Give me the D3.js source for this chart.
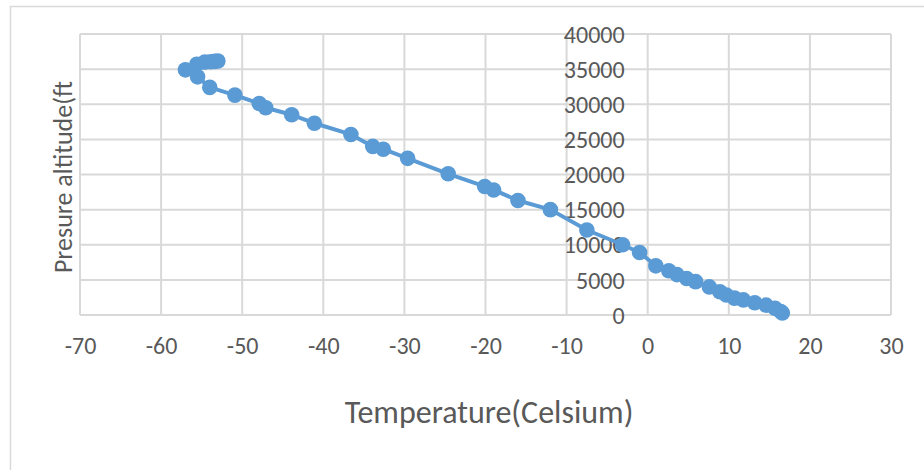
<!DOCTYPE html>
<html>
<head>
<meta charset="utf-8">
<script src="https://cdn.jsdelivr.net/npm/d3@7/dist/d3.min.js"></script>
<style>
  html, body { margin: 0; padding: 0; background: #ffffff; }
  svg { display: block; }
  text { font-family: "Carlito", "Open Sans", "Liberation Sans", sans-serif; fill: #595959; }
</style>
</head>
<body>
<svg id="chart" width="924" height="470"></svg>
<script>
// ---- data ----
const temperature = [-53.0, -53.4, -53.9, -54.6, -55.6, -57.0, -55.5, -54.0, -50.9, -47.9,
  -47.1, -43.9, -41.1, -36.6, -33.9, -32.6, -29.6, -24.6, -20.1, -19.0,
  -16.0, -12.0, -7.5, -3.1, -1.0, 1.0, 2.6, 3.6, 4.8, 5.9,
  7.6, 8.9, 9.7, 10.7, 11.8, 13.2, 14.6, 15.7, 16.4, 16.6];
const altitude = [36150, 36100, 36050, 36000, 35700, 34900, 33900, 32400, 31300, 30100,
  29500, 28500, 27300, 25700, 24000, 23600, 22300, 20100, 18300, 17800,
  16300, 15000, 12100, 10000, 8900, 7000, 6300, 5750, 5200, 4750,
  4000, 3300, 2850, 2400, 2150, 1750, 1400, 950, 500, 300];
const xTicks = [-70, -60, -50, -40, -30, -20, -10, 0, 10, 20, 30];
const yTicks = [0, 5000, 10000, 15000, 20000, 25000, 30000, 35000, 40000];
const xTitle = "Temperature(Celsium)";
const yTitle = "Presure altitude(ft";

const points = temperature.map((t, i) => ({ t, a: altitude[i] }));

const svg = d3.select("#chart");

// outer chart frame
svg.append("rect")
  .attr("x", 10.5).attr("y", 6.5)
  .attr("width", 960).attr("height", 520)
  .attr("fill", "#ffffff")
  .attr("stroke", "#d9d9d9").attr("stroke-width", 1.5);

const x = d3.scaleLinear().domain([-70, 30]).range([80, 891]);
const y = d3.scaleLinear().domain([0, 40000]).range([315, 34]);

// gridlines
const grid = svg.append("g");
grid.selectAll("line.v").data(xTicks).join("line")
  .attr("class", "v")
  .attr("x1", d => x(d)).attr("x2", d => x(d))
  .attr("y1", y(0)).attr("y2", y(40000))
  .attr("stroke", "#d9d9d9").attr("stroke-width", 2);
grid.selectAll("line.h").data(yTicks).join("line")
  .attr("class", "h")
  .attr("x1", x(-70)).attr("x2", x(30))
  .attr("y1", d => y(d)).attr("y2", d => y(d))
  .attr("stroke", "#d9d9d9").attr("stroke-width", 2);

// x axis labels (below plot)
const xAxis = d3.axisBottom(x).tickValues(xTicks).tickSize(0).tickPadding(0).tickFormat(d => String(d));
const gx = svg.append("g").attr("transform", `translate(0, ${y(0)})`).call(xAxis);
gx.select(".domain").remove();
gx.selectAll("text")
  .attr("y", 39).attr("dy", "0")
  .style("font-size", "24px").style("fill", "#595959")
  .style("font-family", "Carlito, 'Open Sans', sans-serif");

// y axis labels (at x = 0, to the left)
const yAxis = d3.axisLeft(y).tickValues(yTicks).tickSize(0).tickPadding(0).tickFormat(d => String(d));
const gy = svg.append("g").attr("transform", `translate(${x(0)}, 0)`).call(yAxis);
gy.select(".domain").remove();
gy.selectAll("text")
  .attr("x", -23).attr("dy", "0.34em")
  .style("font-size", "24px").style("fill", "#595959")
  .style("font-family", "Carlito, 'Open Sans', sans-serif");

// line and markers
const line = d3.line().x(d => x(d.t)).y(d => y(d.a));
svg.append("path")
  .datum(points)
  .attr("d", line)
  .attr("fill", "none")
  .attr("stroke", "#5b9bd5")
  .attr("stroke-width", 4)
  .attr("stroke-linejoin", "round");
svg.append("g").selectAll("circle").data(points).join("circle")
  .attr("cx", d => x(d.t)).attr("cy", d => y(d.a))
  .attr("r", 7.8)
  .attr("fill", "#5b9bd5");

// axis titles
svg.append("text")
  .attr("x", 489).attr("y", 423)
  .attr("text-anchor", "middle")
  .style("font-size", "32px")
  .text(xTitle);
svg.append("text")
  .attr("transform", `translate(72, 177) rotate(-90)`)
  .attr("text-anchor", "middle")
  .style("font-size", "26px")
  .text(yTitle);
</script>
</body>
</html>
